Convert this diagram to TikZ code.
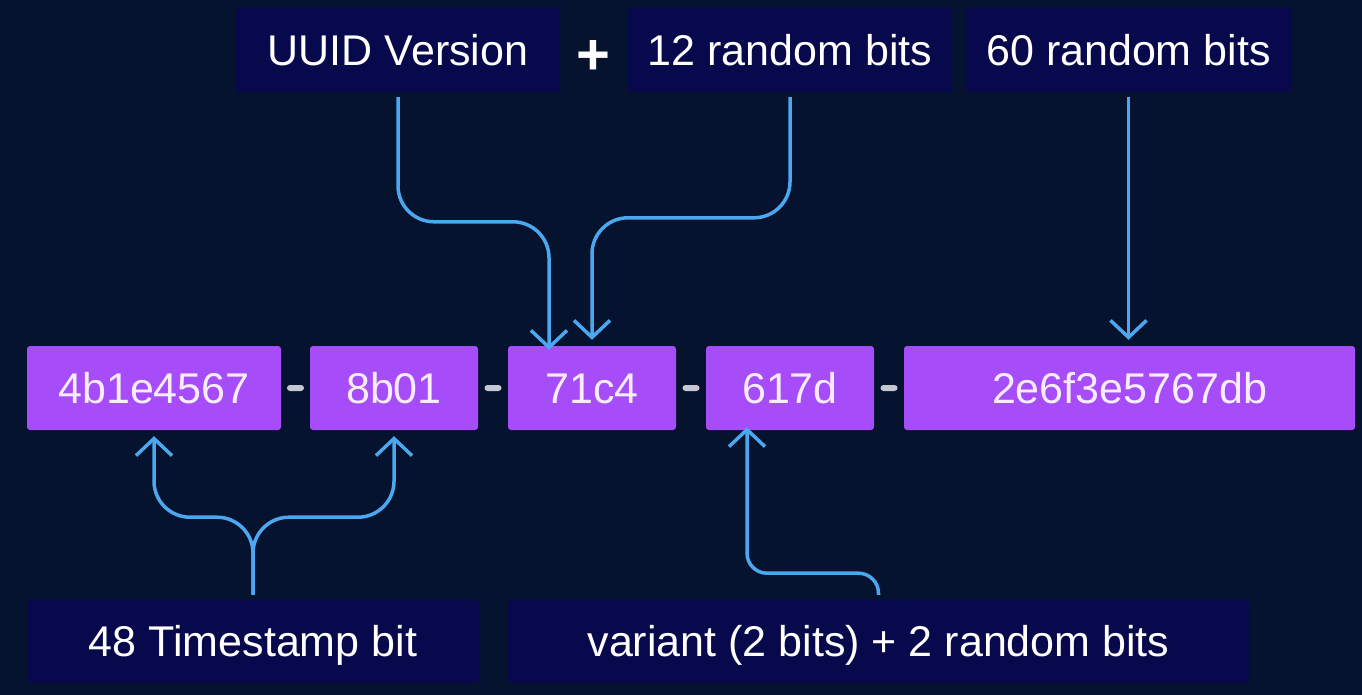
\documentclass[tikz,border=0pt]{standalone}
\usepackage{fontspec}
\setmainfont{Liberation Sans}
\usetikzlibrary{arrows.meta,calc}
\definecolor{bgc}{HTML}{06132E}
\definecolor{lblc}{HTML}{08094C}
\definecolor{purp}{HTML}{A64DF9}
\definecolor{arrc}{HTML}{4BA7F0}
\definecolor{ptext}{HTML}{F7EDFF}
\definecolor{dashc}{HTML}{C5C8D2}
\begin{document}
\begin{tikzpicture}[x=1pt,y=-1pt,
  txt/.style={font=\fontsize{43}{50}\selectfont, text height=30.5pt, text depth=0pt, inner sep=0pt},
  lbl/.style={txt, fill=lblc, rounded corners=3pt, text=white, minimum height=84pt},
  seg/.style={txt, fill=purp, rounded corners=3pt, text=ptext, minimum height=84pt},
  arr/.style={draw=arrc, line width=3.5pt, rounded corners=36pt,
    -{Straight Barb[length=17pt,width=36pt,line width=3.5pt]}},
  dashmark/.style={fill=dashc, rounded corners=3pt, minimum width=17pt, minimum height=6pt, inner sep=0pt}]
\fill[bgc] (0,0) rectangle (1362,695);
\useasboundingbox (0,0) rectangle (1362,695);
% top labels
\node[lbl, minimum width=324pt] (uv) at (398,50) {UUID Version};
\node[txt, text=white, font=\fontsize{58}{60}\selectfont\bfseries] (plus) at (593,59) {+};
\node[lbl, minimum width=324pt] (r12) at (790,50) {12 random bits};
\node[lbl, minimum width=327pt] (r60) at (1128.5,50) {60 random bits};
% UUID segments
\node[seg, minimum width=254pt] (b1) at (154,388) {4b1e4567};
\node[seg, minimum width=168pt] (b2) at (394,388) {8b01};
\node[seg, minimum width=168pt] (b3) at (592,388) {71c4};
\node[seg, minimum width=168pt] (b4) at (790,388) {617d};
\node[seg, minimum width=451pt] (b5) at (1129.5,388) {2e6f3e5767db};
\node[dashmark] (d1) at ($(b1.east)!0.5!(b2.west)$) {};
\node[dashmark] (d2) at ($(b2.east)!0.5!(b3.west)$) {};
\node[dashmark] (d3) at ($(b3.east)!0.5!(b4.west)$) {};
\node[dashmark] (d4) at ($(b4.east)!0.5!(b5.west)$) {};
% bottom labels
\node[lbl, minimum width=452pt, minimum height=83pt] (ts) at (253,641.5) {48 Timestamp bit};
\node[lbl, minimum width=741pt, minimum height=83pt] (var) at (878.5,641.5) {variant (2 bits) + 2 random bits};
% arrows
\draw[arr] ([yshift=-5pt]uv.south) |- ([xshift=-43pt,yshift=124pt]b3.north) -- ([xshift=-43pt,yshift=-4pt]b3.north);
\draw[arr] ([yshift=-5pt]r12.south) |- ([yshift=128pt]b3.north) -- ([yshift=6pt]b3.north);
\draw[arr] ([yshift=-5pt]r60.south) -- ([yshift=6pt]r60.south |- b5.north);
\draw[arr] ([yshift=5pt]ts.north) |- ([yshift=-87pt]b1.south) -- ([yshift=-6pt]b1.south);
\draw[arr] ([yshift=5pt]ts.north) |- ([yshift=-87pt]b2.south) -- ([yshift=-6pt]b2.south);
\draw[arr, rounded corners=20pt] ([yshift=5pt]var.north) |- ([xshift=-43pt,yshift=-143pt]b4.south) -- ([xshift=-43pt,yshift=3pt]b4.south);
\end{tikzpicture}
\end{document}
